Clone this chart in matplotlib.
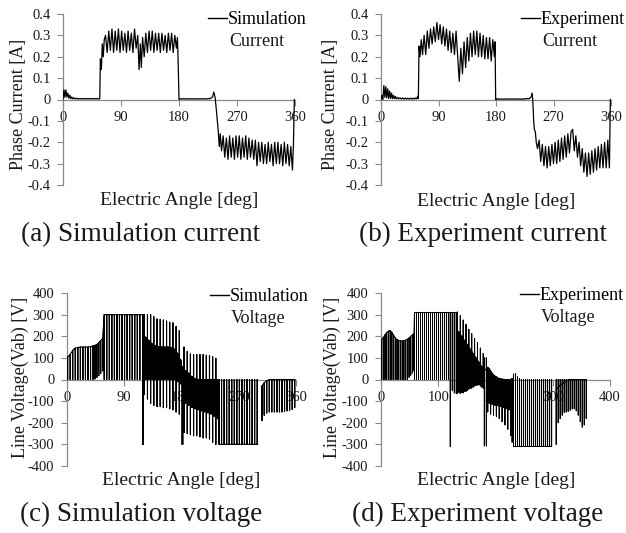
import matplotlib
matplotlib.use('Agg')
import matplotlib.pyplot as plt
from matplotlib.lines import Line2D
import numpy as np

plt.rcParams['font.family'] = ['Liberation Serif', 'DejaVu Serif']

# ---------------- (a) simulation current ----------------
sim_cur_angle = [
    0, 1.5, 3, 4.5, 6, 7.5, 9, 10.5, 12, 13.5, 15,
    17, 19, 21, 23, 25, 27, 29, 31, 33, 35, 37, 39, 41, 43, 45, 47, 49, 51, 53, 55, 57,
    58, 59.5, 61, 62.5, 64, 66, 68.5, 71, 73.5, 76, 78.5, 81, 83.5, 86, 88.5, 91, 93.5,
    96, 98.5, 101, 103.5, 106, 108.5, 111, 113.5, 116, 118, 120, 121.5, 123.5, 126,
    128.5, 131, 133.5, 136, 138.5, 141, 143.5, 146, 148.5, 151, 153.5, 156, 158.5, 161,
    163.5, 166, 168.5, 171, 173.5, 176, 177.5, 178.5, 180,
    182, 184, 186, 188, 190, 192, 194, 196, 198, 200, 202, 204, 206, 208, 210, 212, 214,
    216, 218, 220, 222, 224, 226, 228, 230, 232, 234, 236, 238,
    241, 242.5, 244, 246, 248.5, 251, 253.5, 256, 258.5, 261, 263.5, 266, 268.5, 271,
    273.5, 276, 278.5, 281, 283.5, 286, 288.5, 291, 293.5, 296, 298.5, 301, 303.5, 306,
    308.5, 311, 313.5, 316, 318.5, 321, 323.5, 326, 328.5, 331, 333.5, 336, 338.5, 341,
    343.5, 346, 348.5, 351, 353.5, 356, 357.5, 359]
sim_cur_value = [
    0, .045, .01, .045, .012, .03, .006, .02, .004, .012, .003,
    .008, .002, .006, .002, .005, .002, .005, .002, .005, .002, .005, .002, .005, .002,
    .005, .002, .005, .002, .005, .002, .004,
    .19, .14, .26, .20, .28, .30, .22, .32, .23, .33, .22, .32, .23, .33, .22, .32, .23,
    .31, .22, .32, .23, .31, .22, .33, .24, .30, .14, .26, .15, .29, .20,
    .31, .22, .32, .23, .32, .22, .31, .23, .31, .22, .31, .23, .30, .22,
    .31, .23, .31, .22, .30, .24, .29, .20, 0.0,
    .004, .002, .004, .002, .004, .002, .004, .002, .004, .002, .004, .002, .004, .002,
    .004, .002, .004, .002, .004, .002, .004, .002, .005, .003, .008, .012, .035, .01, -.05,
    -.15, -.22, -.16, -.24, -.17, -.27, -.18, -.28, -.17, -.27, -.18, -.28, -.17, -.27,
    -.17, -.28, -.18, -.27, -.17, -.28, -.18, -.27, -.19, -.28, -.19, -.31, -.20, -.29,
    -.20, -.30, -.21, -.30, -.20, -.29, -.21, -.31, -.20, -.30, -.20, -.30, -.21, -.31,
    -.20, -.30, -.21, -.31, -.22, -.33, -.22, 0.0]

# ---------------- (b) experiment current ----------------
exp_cur_angle = [
    0, 1.5, 3, 4.5, 6, 7.5, 9, 10.5, 12, 13.5, 15, 16.5, 18, 19.5, 21, 22.5, 24,
    26, 28, 30, 32, 34, 36, 38, 40, 42, 44, 46, 48, 50, 52, 54, 56, 57.5, 58.5,
    59.5, 61, 63, 65, 67.5, 70, 72.5, 75, 77.5, 80, 82.5, 85, 87.5, 90, 92.5, 95, 97.5,
    100, 102.5, 105, 107.5, 110, 112.5, 115, 117.5, 120, 122.5, 125, 127.5, 130, 132.5,
    135, 137.5, 140, 142.5, 145, 147.5, 150, 152.5, 155, 157.5, 160, 162.5, 165, 167.5,
    170, 172.5, 175, 177.5, 178.5, 179.5,
    181, 183, 185, 187, 189, 191, 193, 195, 197, 199, 201, 203, 205, 207, 209, 211, 213,
    215, 217, 219, 221, 223, 225, 227, 229, 231, 233, 235, 236.5, 237.5,
    239, 240, 241.5, 243, 245, 247.5, 250, 252.5, 255, 257.5, 260, 262.5, 265, 267.5,
    270, 272.5, 275, 277.5, 280, 282.5, 285, 287.5, 290, 292.5, 295, 297.5, 300, 302.5,
    305, 307.5, 310, 312.5, 315, 317.5, 320, 322.5, 325, 327.5, 330, 332.5, 335, 337.5,
    340, 342.5, 345, 347.5, 350, 352.5, 355, 357.5, 359]
exp_cur_value = [
    0, .02, 0, .065, .01, .06, .008, .05, .005, .04, .005, .03, .004, .02, .004, .014, .003,
    .01, .003, .008, .002, .007, .002, .007, .002, .006, .002, .006, .002, .006, .002, .007,
    .003, .015, .005,
    .25, .20, .28, .21, .30, .21, .32, .24, .33, .26, .34, .27, .36, .28, .35, .26, .34,
    .25, .33, .23, .32, .22, .31, .21, .32, .20, .085, .24, .12, .27, .15,
    .29, .18, .31, .20, .32, .21, .32, .20, .31, .20, .30, .19, .29, .19,
    .29, .18, .28, .20, .27, 0.0,
    .003, .001, .003, .001, .003, .001, .003, .001, .003, .001, .003, .001, .003, .001,
    .003, .001, .003, .001, .003, .001, .003, .001, .004, .002, .005, .003, .006, .012,
    .03, 0.0,
    -.10, -.14, -.15, -.20, -.23, -.19, -.29, -.21, -.31, -.22, -.32, -.22, -.31, -.21,
    -.30, -.20, -.30, -.19, -.29, -.18, -.28, -.17, -.27, -.16, -.25, -.15, -.14, -.24,
    -.17, -.27, -.20, -.31, -.23, -.34, -.25, -.36, -.25, -.35, -.24, -.34, -.23, -.33,
    -.22, -.32, -.21, -.32, -.20, -.32, -.19, -.32, 0.0]

# ---------------- (c) simulation voltage (PWM pulses) ----------------
sim_v_angle = [
    1, 5, 9, 13, 17, 21, 25, 29, 33, 37, 41, 44, 47, 50, 53, 56,
    58.5, 62.5, 66.5, 70.5, 74.5, 78.5, 82.5, 86.5, 90.5, 94.5, 98.5, 102.5, 106.5,
    110.5, 114.5,
    119, 120,
    121.5, 124, 126.5, 129, 131.5, 134, 136.5, 139, 141.5, 144, 146.5, 149, 151.5, 154,
    156.5, 159, 161.5, 164, 166.5, 169, 171.5, 174, 176.5, 179,
    181, 182,
    184, 186.5, 189, 191.5, 194, 196.5, 199, 201.5, 204, 206.5, 209, 211.5, 214, 216.5,
    219, 221.5, 224, 226.5, 229, 231.5, 234, 236.5,
    239, 243, 247, 251, 255, 259, 263, 267, 271, 275, 279, 283, 287, 291, 295, 299,
    306.5, 310, 314, 318, 322, 326, 330, 334, 338, 342, 346, 350, 354, 358]
sim_v_high = (
    [105, 115, 135, 145, 148, 150, 150, 150, 150, 152, 155, 158, 162, 170, 180, 190]
    + [300] * 15 + [300, 300]
    + [300, 195, 300, 180, 300, 165, 290, 155, 280, 152, 278, 150, 275, 150, 270, 150,
       265, 148, 262, 140, 245, 120, 225, 90]
    + [60, 60]
    + [150, 40, 130, 30, 118, 15, 115, 5, 115, 0, 115, 0, 115, 0, 112, 0, 110, 0, 105, 0, 98, 0]
    + [0] * 16
    + [-30, -15, -6, -1] + [0] * 10)
sim_v_low = (
    [0] * 11 + [3, 10, 18, 28, 40]
    + [0] * 15 + [-300, -300]
    + [-70, 0, -90, 0, -110, 0, -120, 0, -125, 0, -125, 0, -130, 0, -130, 0, -135, 0,
       -140, 0, -150, -10, -160, -20]
    + [-300, -300]
    + [-245, -110, -250, -120, -255, -130, -260, -135, -260, -140, -265, -145, -270, -150,
       -270, -155, -275, -160, -290, -170, -300, -180]
    + [-300] * 16
    + [-190, -165, -155, -150, -150, -150, -150, -150, -150, -148, -145, -142, -138, -130])
sim_v_mid = (
    [105, 115, 135, 145, 148, 150, 150, 150, 150, 152, 155, 158, 162, 170, 180, 190]
    + [300] * 15 + [300, 300]
    + [200, 195, 185, 180, 170, 165, 158, 155, 152, 152, 150, 150, 150, 150, 150, 150,
       148, 148, 145, 140, 130, 120, 100, 90]
    + [40, 40]
    + [40, 38, 32, 25, 18, 10, 5] + [0] * 15
    + [-300] * 16
    + [-30, -15, -6, -1] + [0] * 10)

# ---------------- (d) experiment voltage (PWM pulses) ----------------
exp_v_angle = [
    1, 4, 7, 10, 13, 16, 19, 22, 25, 28, 31, 34, 37, 40, 43, 46, 49, 52, 55, 57.5,
    58.5, 62, 65.5, 69, 72.5, 76, 79.5, 83, 86.5, 90, 93.5, 97, 100.5, 104, 107.5, 111,
    114.5, 118, 121, 124.5, 128, 131.5,
    133.5, 136, 138.5, 141, 143.5, 146, 148.5, 151, 153.5, 156, 158.5, 161, 163.5, 166,
    168.5, 171, 173.5, 176, 178.5,
    180.5, 184,
    186.5, 189, 191.5, 194, 196.5, 199, 201.5, 204, 206.5, 209, 211.5, 214, 216.5, 219,
    221.5, 224, 226.5, 229,
    231.5, 235, 238.5, 242, 245.5, 249, 252.5, 256, 259.5, 263, 266.5, 270, 273.5, 277,
    280.5, 284, 287.5, 291, 294.5, 298,
    306, 309.5, 313, 316.5, 320, 323.5, 327, 330.5, 334, 337.5, 341, 344.5, 348, 351.5,
    355, 358.5]
exp_v_high = (
    [185, 195, 207, 218, 224, 226, 218, 205, 192, 185, 181, 179, 178, 179, 182, 186, 192,
     200, 207, 212]
    + [310] * 22
    + [312, 220, 295, 200, 275, 180, 255, 160, 232, 140, 212, 120, 190, 100, 170, 80, 145, 60, 120]
    + [100, 100]
    + [57, 50, 40, 30, 22, 16, 12, 8, 5, 3, 2, 1, 0, 0, 0, 0, 0, 5]
    + [25, 28, 12, 5] + [0] * 16
    + [0] * 16)
exp_v_low = (
    [0] * 16 + [10, 20, 30, 40]
    + [0] * 18 + [-310, -50, -62, -65]
    + [-65, -60, -65, -60, -62, -55, -55, -50, -45, -40, -40, -35, -30, -28, -25, -25, -30, -35, -40]
    + [-307, -307]
    + [-150, -110, -160, -115, -165, -120, -170, -120, -180, -125, -195, -130, -210, -135,
       -230, -140, -260, -290]
    + [-300, -305] + [-310] * 18
    + [-300, -200, -181, -165, -152, -150, -148, -142, -136, -135, -145, -165, -195, -220,
       -210, -180])
exp_v_mid = (
    [185, 195, 207, 218, 224, 226, 218, 205, 192, 185, 181, 179, 178, 179, 182, 186, 192,
     200, 207, 212]
    + [310] * 22
    + [225, 220, 210, 200, 190, 180, 170, 160, 150, 140, 130, 120, 110, 100, 90, 80, 70, 60, 45]
    + [40, 50]
    + [57, 50, 40, 30, 22, 16, 12, 8, 5, 3, 2, 1, 0, 0, 0, 0, 0, 5]
    + [-310] * 20
    + [-45, -35, -28, -20, -13, -8, -3] + [0] * 9)

cur_ticks = [-0.4, -0.3, -0.2, -0.1, 0, 0.1, 0.2, 0.3, 0.4]
cur_ticklabels = ['-0.4', '-0.3', '-0.2', '-0.1', '0', '0.1', '0.2', '0.3', '0.4']
volt_ticks = [-400, -300, -200, -100, 0, 100, 200, 300, 400]
volt_ticklabels = ['-400', '-300', '-200', '-100', '0', '100', '200', '300', '400']
angle_ticks_360 = [0, 90, 180, 270, 360]
angle_ticks_400 = [0, 100, 200, 300, 400]


def pulse_path(ang, lo, hi, mid, gap=6.0):
    xs, ys = [], []
    prev = None
    for a, l, h, m in zip(ang, lo, hi, mid):
        if prev is not None and a - prev > gap:
            xs.append(np.nan)
            ys.append(np.nan)
        xs += [a, a, a, a]
        ys += [m, h, l, m]
        prev = a
    return xs, ys


W, H = 626, 533
fig = plt.figure(figsize=(W / 100, H / 100), dpi=100)


def px_axes(left, top, right, bottom):
    return fig.add_axes([left / W, 1 - bottom / H, (right - left) / W, (bottom - top) / H])


GREY = '#8a8a8a'
TXT = '#1a1a1a'


def style(ax, xlim, xticks, ylim, yticks, yticklabels):
    ax.set_xlim(*xlim)
    ax.set_ylim(*ylim)
    for s in ['top', 'right']:
        ax.spines[s].set_visible(False)
    ax.spines['bottom'].set_position(('data', 0))
    for s in ['left', 'bottom']:
        ax.spines[s].set_color(GREY)
        ax.spines[s].set_linewidth(0.9)
    ax.set_xticks(xticks)
    ax.set_xticklabels([str(t) for t in xticks])
    ax.set_yticks(yticks)
    ax.set_yticklabels(yticklabels)
    ax.tick_params(axis='both', direction='out', length=4, width=0.8, color=GREY,
                   labelsize=10.5, labelcolor=TXT)
    ax.tick_params(axis='y', pad=5)
    ax.tick_params(axis='x', pad=4)
    ax.patch.set_alpha(0)


def add_legend(ax, line1, line2, xpx, base1):
    h = Line2D([0], [0], color='black', lw=1.0)
    ax.legend([h], [line1], loc='upper left', bbox_to_anchor=(xpx / W, 1 - (base1 - 16) / H),
              bbox_transform=fig.transFigure, frameon=False, fontsize=13,
              handlelength=1.05, handletextpad=0.05, borderpad=0, borderaxespad=0)
    fig.text((xpx + 21) / W, 1 - (base1 + 19) / H, line2, ha='left', va='baseline',
             fontsize=13, color=TXT)


# (a)
axa = px_axes(63, 14, 295, 185)
axa.plot(sim_cur_angle, sim_cur_value, color='black', lw=0.9, zorder=3)
style(axa, (0, 360), angle_ticks_360, (-0.4, 0.4), cur_ticks, cur_ticklabels)
axa.set_ylabel('Phase Current [A]', fontsize=13, color=TXT)
axa.yaxis.set_label_coords(-0.155, 0.47)
add_legend(axa, 'Simulation', 'Current', 208, 27)

# (b)
axb = px_axes(381, 14, 611, 185)
axb.plot(exp_cur_angle, exp_cur_value, color='black', lw=0.9, zorder=3)
style(axb, (0, 360), angle_ticks_360, (-0.4, 0.4), cur_ticks, cur_ticklabels)
axb.set_ylabel('Phase Current [A]', fontsize=13, color=TXT)
axb.yaxis.set_label_coords(-0.183, 0.47)
add_legend(axb, 'Experiment', 'Current', 521, 27)

# (c)
axc = px_axes(67, 293, 296, 466)
xs, ys = pulse_path(sim_v_angle, sim_v_low, sim_v_high, sim_v_mid)
axc.plot(xs, ys, color='black', lw=0.8, zorder=3)
style(axc, (0, 360), angle_ticks_360, (-400, 400), volt_ticks, volt_ticklabels)
axc.set_ylabel('Line Voltage(Vab) [V]', fontsize=13, color=TXT)
axc.yaxis.set_label_coords(-0.166, 0.51)
add_legend(axc, 'Simulation', 'Voltage', 210, 304)

# (d)
axd = px_axes(381, 293, 610, 466)
xs, ys = pulse_path(exp_v_angle, exp_v_low, exp_v_high, exp_v_mid)
axd.plot(xs, ys, color='black', lw=0.7, zorder=3)
style(axd, (0, 400), angle_ticks_400, (-400, 400), volt_ticks, volt_ticklabels)
axd.set_ylabel('Line Voltage(Vab) [V]', fontsize=13, color=TXT)
axd.yaxis.set_label_coords(-0.175, 0.51)
add_legend(axd, 'Experiment', 'Voltage', 520, 303)

# x-axis labels
for (cx, by) in [(179, 205), (496, 206), (181, 485), (496, 485)]:
    fig.text(cx / W, 1 - by / H, 'Electric Angle [deg]', ha='center', va='baseline',
             fontsize=14, color=TXT)

# captions
captions = ['(a) Simulation current', '(b) Experiment current',
            '(c) Simulation voltage', '(d) Experiment voltage']
for txt, (cx, by) in zip(captions, [(140.5, 241), (483, 241), (141.5, 521), (478, 521)]):
    fig.text(cx / W, 1 - by / H, txt, ha='center', va='baseline', fontsize=19.5, color=TXT)

fig.savefig('out.png', dpi=100, facecolor='white')
